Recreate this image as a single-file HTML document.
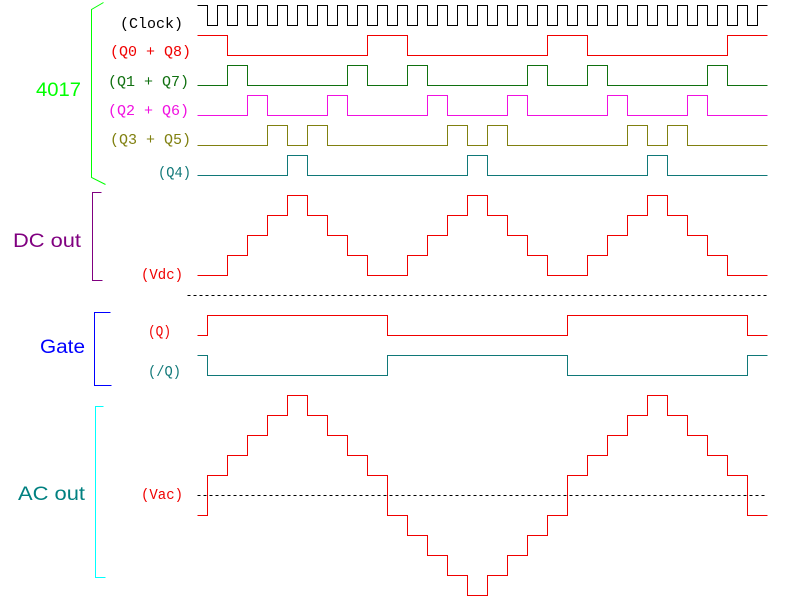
<!DOCTYPE html>
<html>
<head>
<meta charset="utf-8">
<style>
html,body{margin:0;padding:0;background:#fff;}
svg{display:block;}
path,polyline{fill:none;stroke-width:1;shape-rendering:crispEdges;}
text{white-space:pre;}
.s{font-family:"Liberation Mono",monospace;font-size:15px;}
.b{font-family:"Liberation Sans",sans-serif;font-size:19px;}
</style>
</head>
<body>
<svg width="786" height="600" viewBox="0 0 786 600" xmlns="http://www.w3.org/2000/svg">
<rect width="786" height="600" fill="#fff"/>
<g transform="translate(.5 .5)">
<path stroke="#000" d="M197 5H207V25H217V5H227V25H237V5H247V25H257V5H267V25H277V5H287V25H297V5H307V25H317V5H327V25H337V5H347V25H357V5H367V25H377V5H387V25H397V5H407V25H417V5H427V25H437V5H447V25H457V5H467V25H477V5H487V25H497V5H507V25H517V5H527V25H537V5H547V25H557V5H567V25H577V5H587V25H597V5H607V25H617V5H627V25H637V5H647V25H657V5H667V25H677V5H687V25H697V5H707V25H717V5H727V25H737V5H747V25H757V5H767"/>
<path stroke="#f00000" d="M197 35H227V55H367V35H407V55H547V35H587V55H727V35H767"/>
<path stroke="#107010" d="M197 85H227V65H247V85H347V65H367V85H407V65H427V85H527V65H547V85H587V65H607V85H707V65H727V85H767"/>
<path stroke="#f010e0" d="M197 115H247V95H267V115H327V95H347V115H427V95H447V115H507V95H527V115H607V95H627V115H687V95H707V115H767"/>
<path stroke="#808010" d="M197 145H267V125H287V145H307V125H327V145H447V125H467V145H487V125H507V145H627V125H647V145H667V125H687V145H767"/>
<path stroke="#107878" d="M197 175H287V155H307V175H467V155H487V175H647V155H667V175H767"/>
<path stroke="#f00000" d="M197 275H227V255H247V235H267V215H287V195H307V215H327V235H347V255H367V275H407V255H427V235H447V215H467V195H487V215H507V235H527V255H547V275H587V255H607V235H627V215H647V195H667V215H687V235H707V255H727V275H767"/>
<path stroke="#000" stroke-dasharray="3 3" d="M187 295H767"/>
<path stroke="#f00000" d="M197 335H207V315H387V335H567V315H747V335H767"/>
<path stroke="#107878" d="M197 355H207V375H387V355H567V375H747V355H767"/>
<path stroke="#000" stroke-dasharray="3 3" d="M197 495H767"/>
<path stroke="#f00000" d="M197 515H207V475H227V455H247V435H267V415H287V395H307V415H327V435H347V455H367V475H387V515H407V535H427V555H447V575H467V595H487V575H507V555H527V535H547V515H567V475H587V455H607V435H627V415H647V395H667V415H687V435H707V455H727V475H747V515H767"/>
<polyline stroke="#00ff00" points="103,2 91,9 91,177 105,184" style="shape-rendering:auto"/>
<polyline stroke="#800080" points="101,192 92,192 92,280 102,280"/>
<polyline stroke="#0000ff" points="110,312 94,312 94,385 111,385"/>
<polyline stroke="#00ffff" points="103,406 95,406 95,577 105,577"/>
</g>
<g class="s">
<text x="120" y="28" fill="#000">(Clock)</text>
<text x="110" y="56" fill="#f00000">(Q0 + Q8)</text>
<text x="108" y="86" fill="#107010">(Q1 + Q7)</text>
<text x="108" y="115" fill="#f010e0">(Q2 + Q6)</text>
<text x="110" y="144" fill="#808010">(Q3 + Q5)</text>
<text x="158" y="177" fill="#107878" textLength="33" lengthAdjust="spacingAndGlyphs">(Q4)</text>
<text x="141" y="279" fill="#f00000" textLength="42" lengthAdjust="spacingAndGlyphs">(Vdc)</text>
<text x="148" y="336" fill="#f00000" textLength="23" lengthAdjust="spacingAndGlyphs">(Q)</text>
<text x="148" y="376" fill="#107878" textLength="33" lengthAdjust="spacingAndGlyphs">(/Q)</text>
<text x="141" y="499" fill="#f00000" textLength="42" lengthAdjust="spacingAndGlyphs">(Vac)</text>
</g>
<g class="b">
<text x="36" y="96" fill="#00ff00" textLength="45" lengthAdjust="spacingAndGlyphs">4017</text>
<text x="13" y="247" fill="#800080" textLength="68" lengthAdjust="spacingAndGlyphs">DC out</text>
<text x="40" y="353" fill="#0000ff" textLength="45" lengthAdjust="spacingAndGlyphs">Gate</text>
<text x="18" y="500" fill="#008080" textLength="67" lengthAdjust="spacingAndGlyphs">AC out</text>
</g>
</svg>
</body>
</html>
